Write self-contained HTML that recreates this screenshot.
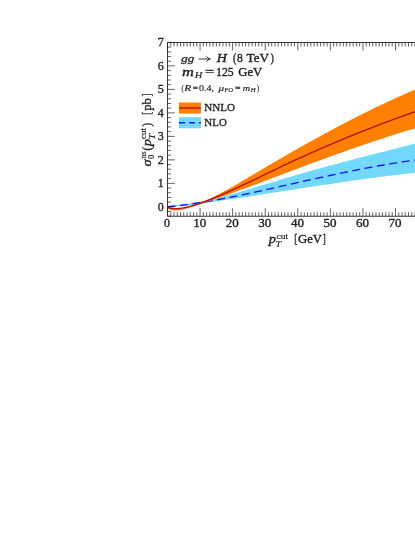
<!DOCTYPE html>
<html><head><meta charset="utf-8"><title>plot</title>
<style>
html,body{margin:0;padding:0;background:#fff;}
body{width:415px;height:537px;overflow:hidden;position:relative;font-family:"Liberation Serif",serif;}
svg{position:absolute;left:0;top:0;will-change:transform;}
text{font-family:"Liberation Serif",serif;font-weight:normal;fill:#222;stroke:#222;}
.i{font-style:italic;}
</style></head><body>
<svg width="415" height="537" viewBox="0 0 415 537">
<defs><clipPath id="c"><rect x="167.5" y="42.5" width="300" height="173.75"/></clipPath></defs>
<g clip-path="url(#c)">
<path d="M167.50 205.82L169.10 205.72L170.70 205.60L172.30 205.47L173.90 205.33L175.50 205.17L177.10 205.01L178.70 204.83L180.31 204.65L181.91 204.45L183.51 204.24L185.11 204.03L186.71 203.80L188.31 203.56L189.91 203.31L191.51 203.06L193.11 202.79L194.71 202.52L196.31 202.23L197.91 201.94L199.51 201.64L201.11 201.33L202.71 201.02L204.31 200.69L205.92 200.36L207.52 200.02L209.12 199.67L210.72 199.32L212.32 198.95L213.92 198.59L215.52 198.21L217.12 197.83L218.72 197.44L220.32 197.05L221.92 196.65L223.52 196.24L225.12 195.83L226.72 195.42L228.32 195.00L229.92 194.57L231.53 194.14L233.13 193.70L234.73 193.27L236.33 192.82L237.93 192.38L239.53 191.92L241.13 191.47L242.73 191.01L244.33 190.55L245.93 190.09L247.53 189.62L249.13 189.15L250.73 188.68L252.33 188.21L253.93 187.73L255.53 187.25L257.14 186.77L258.74 186.29L260.34 185.81L261.94 185.33L263.54 184.84L265.14 184.36L266.74 183.87L268.34 183.39L269.94 182.90L271.54 182.42L273.14 181.93L274.74 181.45L276.34 180.96L277.94 180.48L279.54 180.00L281.14 179.52L282.75 179.04L284.35 178.56L285.95 178.09L287.55 177.61L289.15 177.14L290.75 176.67L292.35 176.20L293.95 175.74L295.55 175.27L297.15 174.81L298.75 174.35L300.35 173.89L301.95 173.43L303.55 172.97L305.15 172.52L306.75 172.06L308.36 171.61L309.96 171.16L311.56 170.71L313.16 170.26L314.76 169.82L316.36 169.37L317.96 168.93L319.56 168.49L321.16 168.05L322.76 167.61L324.36 167.17L325.96 166.74L327.56 166.30L329.16 165.87L330.76 165.43L332.36 165.00L333.97 164.57L335.57 164.14L337.17 163.71L338.77 163.29L340.37 162.86L341.97 162.43L343.57 162.01L345.17 161.59L346.77 161.16L348.37 160.74L349.97 160.32L351.57 159.90L353.17 159.48L354.77 159.06L356.37 158.65L357.97 158.23L359.58 157.81L361.18 157.40L362.78 156.98L364.38 156.57L365.98 156.16L367.58 155.74L369.18 155.33L370.78 154.92L372.38 154.51L373.98 154.10L375.58 153.69L377.18 153.28L378.78 152.87L380.38 152.46L381.98 152.05L383.58 151.64L385.19 151.23L386.79 150.83L388.39 150.42L389.99 150.01L391.59 149.60L393.19 149.20L394.79 148.79L396.39 148.38L397.99 147.98L399.59 147.57L401.19 147.17L402.79 146.76L404.39 146.35L405.99 145.95L407.59 145.54L409.19 145.13L410.80 144.73L412.40 144.32L414.00 143.91L415.60 143.51L417.20 143.10L418.80 142.69L420.40 142.28L422.00 141.88L422.00 172.22L420.40 172.37L418.80 172.52L417.20 172.67L415.60 172.83L414.00 172.99L412.40 173.15L410.80 173.32L409.19 173.48L407.59 173.65L405.99 173.82L404.39 174.00L402.79 174.17L401.19 174.35L399.59 174.53L397.99 174.71L396.39 174.90L394.79 175.09L393.19 175.27L391.59 175.47L389.99 175.66L388.39 175.85L386.79 176.05L385.19 176.25L383.58 176.45L381.98 176.65L380.38 176.86L378.78 177.06L377.18 177.27L375.58 177.48L373.98 177.69L372.38 177.90L370.78 178.12L369.18 178.33L367.58 178.55L365.98 178.77L364.38 178.99L362.78 179.21L361.18 179.44L359.58 179.66L357.97 179.89L356.37 180.11L354.77 180.34L353.17 180.57L351.57 180.80L349.97 181.03L348.37 181.27L346.77 181.50L345.17 181.74L343.57 181.97L341.97 182.21L340.37 182.45L338.77 182.69L337.17 182.93L335.57 183.17L333.97 183.41L332.36 183.65L330.76 183.89L329.16 184.14L327.56 184.38L325.96 184.63L324.36 184.87L322.76 185.12L321.16 185.37L319.56 185.61L317.96 185.86L316.36 186.11L314.76 186.36L313.16 186.61L311.56 186.86L309.96 187.10L308.36 187.35L306.75 187.60L305.15 187.85L303.55 188.10L301.95 188.36L300.35 188.61L298.75 188.86L297.15 189.11L295.55 189.36L293.95 189.61L292.35 189.86L290.75 190.11L289.15 190.36L287.55 190.61L285.95 190.86L284.35 191.11L282.75 191.36L281.14 191.61L279.54 191.85L277.94 192.10L276.34 192.35L274.74 192.60L273.14 192.85L271.54 193.09L269.94 193.34L268.34 193.59L266.74 193.83L265.14 194.08L263.54 194.32L261.94 194.57L260.34 194.81L258.74 195.05L257.14 195.30L255.53 195.54L253.93 195.78L252.33 196.02L250.73 196.26L249.13 196.50L247.53 196.74L245.93 196.98L244.33 197.22L242.73 197.46L241.13 197.70L239.53 197.94L237.93 198.17L236.33 198.41L234.73 198.64L233.13 198.88L231.53 199.11L229.92 199.35L228.32 199.58L226.72 199.81L225.12 200.04L223.52 200.27L221.92 200.50L220.32 200.73L218.72 200.96L217.12 201.18L215.52 201.41L213.92 201.64L212.32 201.86L210.72 202.09L209.12 202.31L207.52 202.53L205.92 202.75L204.31 202.97L202.71 203.19L201.11 203.41L199.51 203.63L197.91 203.85L196.31 204.06L194.71 204.28L193.11 204.49L191.51 204.71L189.91 204.92L188.31 205.13L186.71 205.34L185.11 205.55L183.51 205.76L181.91 205.96L180.31 206.17L178.70 206.37L177.10 206.58L175.50 206.78L173.90 206.98L172.30 207.18L170.70 207.38L169.10 207.58L167.50 207.78Z" fill="#72d8ff"/>
<path d="M167.50 206.73L169.10 206.58L170.70 206.43L172.30 206.27L173.90 206.11L175.50 205.94L177.10 205.76L178.70 205.58L180.31 205.40L181.91 205.20L183.51 205.01L185.11 204.81L186.71 204.60L188.31 204.39L189.91 204.17L191.51 203.95L193.11 203.72L194.71 203.49L196.31 203.25L197.91 203.01L199.51 202.76L201.11 202.51L202.71 202.26L204.31 202.00L205.92 201.74L207.52 201.47L209.12 201.20L210.72 200.93L212.32 200.65L213.92 200.37L215.52 200.08L217.12 199.79L218.72 199.50L220.32 199.20L221.92 198.90L223.52 198.60L225.12 198.29L226.72 197.99L228.32 197.67L229.92 197.36L231.53 197.04L233.13 196.72L234.73 196.40L236.33 196.07L237.93 195.75L239.53 195.42L241.13 195.08L242.73 194.75L244.33 194.41L245.93 194.08L247.53 193.74L249.13 193.39L250.73 193.05L252.33 192.70L253.93 192.36L255.53 192.01L257.14 191.66L258.74 191.31L260.34 190.95L261.94 190.60L263.54 190.25L265.14 189.89L266.74 189.53L268.34 189.18L269.94 188.82L271.54 188.46L273.14 188.10L274.74 187.74L276.34 187.38L277.94 187.02L279.54 186.66L281.14 186.30L282.75 185.93L284.35 185.57L285.95 185.21L287.55 184.85L289.15 184.49L290.75 184.13L292.35 183.77L293.95 183.41L295.55 183.05L297.15 182.69L298.75 182.33L300.35 181.97L301.95 181.61L303.55 181.26L305.15 180.90L306.75 180.54L308.36 180.18L309.96 179.83L311.56 179.47L313.16 179.12L314.76 178.77L316.36 178.41L317.96 178.06L319.56 177.71L321.16 177.36L322.76 177.01L324.36 176.67L325.96 176.32L327.56 175.97L329.16 175.63L330.76 175.29L332.36 174.95L333.97 174.61L335.57 174.27L337.17 173.93L338.77 173.59L340.37 173.26L341.97 172.93L343.57 172.60L345.17 172.27L346.77 171.94L348.37 171.61L349.97 171.29L351.57 170.96L353.17 170.64L354.77 170.32L356.37 170.01L357.97 169.69L359.58 169.38L361.18 169.07L362.78 168.76L364.38 168.45L365.98 168.15L367.58 167.85L369.18 167.55L370.78 167.25L372.38 166.95L373.98 166.66L375.58 166.37L377.18 166.08L378.78 165.80L380.38 165.52L381.98 165.24L383.58 164.96L385.19 164.68L386.79 164.41L388.39 164.14L389.99 163.88L391.59 163.61L393.19 163.35L394.79 163.10L396.39 162.84L397.99 162.59L399.59 162.34L401.19 162.10L402.79 161.86L404.39 161.62L405.99 161.38L407.59 161.15L409.19 160.92L410.80 160.70L412.40 160.48L414.00 160.26L415.60 160.05L417.20 159.84L418.80 159.63L420.40 159.43L422.00 159.23" fill="none" stroke="#1a1aff" stroke-width="1.4" stroke-dasharray="8 4.55"/>
<path d="M167.50 207.13L169.10 207.44L170.70 207.68L172.30 207.86L173.90 207.97L175.50 208.02L177.10 208.01L178.70 207.95L180.31 207.83L181.91 207.65L183.51 207.43L185.11 207.16L186.71 206.84L188.31 206.48L189.91 206.08L191.51 205.63L193.11 205.16L194.71 204.65L196.31 204.11L197.91 203.53L199.51 202.94L201.11 202.31L202.71 201.67L204.31 201.00L205.92 200.32L207.52 199.61L209.12 198.89L210.72 198.16L212.32 197.40L213.92 196.63L215.52 195.85L217.12 195.05L218.72 194.24L220.32 193.41L221.92 192.57L223.52 191.72L225.12 190.86L226.72 189.98L228.32 189.10L229.92 188.21L231.53 187.31L233.13 186.40L234.73 185.48L236.33 184.56L237.93 183.63L239.53 182.70L241.13 181.76L242.73 180.82L244.33 179.87L245.93 178.92L247.53 177.97L249.13 177.01L250.73 176.06L252.33 175.10L253.93 174.15L255.53 173.20L257.14 172.24L258.74 171.29L260.34 170.35L261.94 169.40L263.54 168.45L265.14 167.51L266.74 166.56L268.34 165.62L269.94 164.68L271.54 163.75L273.14 162.81L274.74 161.88L276.34 160.94L277.94 160.01L279.54 159.08L281.14 158.16L282.75 157.23L284.35 156.31L285.95 155.38L287.55 154.46L289.15 153.55L290.75 152.63L292.35 151.72L293.95 150.80L295.55 149.90L297.15 148.99L298.75 148.08L300.35 147.18L301.95 146.28L303.55 145.38L305.15 144.48L306.75 143.59L308.36 142.69L309.96 141.80L311.56 140.91L313.16 140.03L314.76 139.15L316.36 138.26L317.96 137.39L319.56 136.51L321.16 135.64L322.76 134.76L324.36 133.90L325.96 133.03L327.56 132.17L329.16 131.30L330.76 130.45L332.36 129.59L333.97 128.74L335.57 127.89L337.17 127.04L338.77 126.19L340.37 125.35L341.97 124.51L343.57 123.67L345.17 122.84L346.77 122.01L348.37 121.18L349.97 120.36L351.57 119.53L353.17 118.71L354.77 117.90L356.37 117.08L357.97 116.27L359.58 115.47L361.18 114.66L362.78 113.86L364.38 113.06L365.98 112.27L367.58 111.47L369.18 110.69L370.78 109.90L372.38 109.12L373.98 108.34L375.58 107.56L377.18 106.79L378.78 106.02L380.38 105.26L381.98 104.50L383.58 103.74L385.19 102.98L386.79 102.23L388.39 101.48L389.99 100.74L391.59 100.00L393.19 99.26L394.79 98.52L396.39 97.79L397.99 97.07L399.59 96.34L401.19 95.63L402.79 94.91L404.39 94.20L405.99 93.49L407.59 92.79L409.19 92.09L410.80 91.39L412.40 90.70L414.00 90.01L415.60 89.32L417.20 88.64L418.80 87.96L420.40 87.29L422.00 86.62L422.00 126.31L420.40 126.77L418.80 127.24L417.20 127.71L415.60 128.18L414.00 128.66L412.40 129.13L410.80 129.61L409.19 130.10L407.59 130.58L405.99 131.07L404.39 131.56L402.79 132.05L401.19 132.55L399.59 133.05L397.99 133.55L396.39 134.05L394.79 134.56L393.19 135.06L391.59 135.57L389.99 136.09L388.39 136.60L386.79 137.12L385.19 137.64L383.58 138.16L381.98 138.68L380.38 139.21L378.78 139.73L377.18 140.26L375.58 140.79L373.98 141.33L372.38 141.86L370.78 142.40L369.18 142.94L367.58 143.48L365.98 144.03L364.38 144.57L362.78 145.12L361.18 145.67L359.58 146.22L357.97 146.77L356.37 147.33L354.77 147.88L353.17 148.44L351.57 149.00L349.97 149.56L348.37 150.12L346.77 150.69L345.17 151.25L343.57 151.82L341.97 152.39L340.37 152.96L338.77 153.53L337.17 154.10L335.57 154.68L333.97 155.25L332.36 155.83L330.76 156.41L329.16 156.99L327.56 157.57L325.96 158.15L324.36 158.73L322.76 159.32L321.16 159.90L319.56 160.49L317.96 161.07L316.36 161.66L314.76 162.25L313.16 162.84L311.56 163.43L309.96 164.03L308.36 164.62L306.75 165.21L305.15 165.81L303.55 166.40L301.95 167.00L300.35 167.60L298.75 168.19L297.15 168.79L295.55 169.39L293.95 169.99L292.35 170.59L290.75 171.19L289.15 171.80L287.55 172.40L285.95 173.00L284.35 173.60L282.75 174.21L281.14 174.81L279.54 175.41L277.94 176.02L276.34 176.62L274.74 177.23L273.14 177.83L271.54 178.44L269.94 179.05L268.34 179.65L266.74 180.26L265.14 180.86L263.54 181.47L261.94 182.07L260.34 182.67L258.74 183.28L257.14 183.88L255.53 184.48L253.93 185.08L252.33 185.68L250.73 186.28L249.13 186.88L247.53 187.48L245.93 188.07L244.33 188.67L242.73 189.26L241.13 189.86L239.53 190.45L237.93 191.04L236.33 191.62L234.73 192.21L233.13 192.80L231.53 193.38L229.92 193.96L228.32 194.54L226.72 195.12L225.12 195.69L223.52 196.27L221.92 196.84L220.32 197.41L218.72 197.97L217.12 198.54L215.52 199.10L213.92 199.66L212.32 200.21L210.72 200.77L209.12 201.32L207.52 201.86L205.92 202.41L204.31 202.95L202.71 203.48L201.11 204.01L199.51 204.53L197.91 205.05L196.31 205.56L194.71 206.07L193.11 206.57L191.51 207.06L189.91 207.54L188.31 208.02L186.71 208.48L185.11 208.93L183.51 209.34L181.91 209.71L180.31 210.03L178.70 210.26L177.10 210.42L175.50 210.48L173.90 210.42L172.30 210.24L170.70 209.93L169.10 209.46L167.50 208.83Z" fill="#ff8000"/>
<path d="M167.50 207.39L169.10 207.85L170.70 208.20L172.30 208.44L173.90 208.58L175.50 208.63L177.10 208.60L178.70 208.50L180.31 208.33L181.91 208.10L183.51 207.83L185.11 207.51L186.71 207.17L188.31 206.79L189.91 206.39L191.51 205.96L193.11 205.50L194.71 205.03L196.31 204.53L197.91 204.01L199.51 203.47L201.11 202.92L202.71 202.35L204.31 201.76L205.92 201.16L207.52 200.55L209.12 199.92L210.72 199.29L212.32 198.64L213.92 197.99L215.52 197.33L217.12 196.66L218.72 195.99L220.32 195.31L221.92 194.62L223.52 193.92L225.12 193.22L226.72 192.52L228.32 191.80L229.92 191.09L231.53 190.36L233.13 189.64L234.73 188.90L236.33 188.17L237.93 187.42L239.53 186.68L241.13 185.93L242.73 185.18L244.33 184.42L245.93 183.66L247.53 182.90L249.13 182.14L250.73 181.37L252.33 180.60L253.93 179.83L255.53 179.06L257.14 178.29L258.74 177.52L260.34 176.74L261.94 175.97L263.54 175.19L265.14 174.42L266.74 173.64L268.34 172.87L269.94 172.09L271.54 171.32L273.14 170.55L274.74 169.78L276.34 169.01L277.94 168.24L279.54 167.48L281.14 166.72L282.75 165.96L284.35 165.20L285.95 164.45L287.55 163.69L289.15 162.94L290.75 162.20L292.35 161.45L293.95 160.71L295.55 159.97L297.15 159.23L298.75 158.50L300.35 157.77L301.95 157.04L303.55 156.31L305.15 155.59L306.75 154.87L308.36 154.15L309.96 153.43L311.56 152.72L313.16 152.00L314.76 151.29L316.36 150.59L317.96 149.88L319.56 149.18L321.16 148.48L322.76 147.78L324.36 147.09L325.96 146.40L327.56 145.71L329.16 145.02L330.76 144.34L332.36 143.65L333.97 142.98L335.57 142.30L337.17 141.62L338.77 140.95L340.37 140.28L341.97 139.61L343.57 138.95L345.17 138.29L346.77 137.63L348.37 136.97L349.97 136.31L351.57 135.66L353.17 135.01L354.77 134.36L356.37 133.72L357.97 133.08L359.58 132.44L361.18 131.80L362.78 131.16L364.38 130.53L365.98 129.90L367.58 129.27L369.18 128.65L370.78 128.02L372.38 127.40L373.98 126.78L375.58 126.17L377.18 125.56L378.78 124.94L380.38 124.34L381.98 123.73L383.58 123.13L385.19 122.53L386.79 121.93L388.39 121.33L389.99 120.74L391.59 120.14L393.19 119.56L394.79 118.97L396.39 118.38L397.99 117.80L399.59 117.22L401.19 116.65L402.79 116.07L404.39 115.50L405.99 114.93L407.59 114.36L409.19 113.80L410.80 113.24L412.40 112.68L414.00 112.12L415.60 111.56L417.20 111.01L418.80 110.46L420.40 109.91L422.00 109.37" fill="none" stroke="#b3101f" stroke-width="1.35"/>
</g>
<path d="M167.50 216.25v-8.0M167.50 42.5v8.0M170.76 216.25v-4.0M170.76 42.5v4.0M174.01 216.25v-4.0M174.01 42.5v4.0M177.27 216.25v-4.0M177.27 42.5v4.0M180.53 216.25v-4.0M180.53 42.5v4.0M183.78 216.25v-4.0M183.78 42.5v4.0M187.04 216.25v-4.0M187.04 42.5v4.0M190.30 216.25v-4.0M190.30 42.5v4.0M193.56 216.25v-4.0M193.56 42.5v4.0M196.81 216.25v-4.0M196.81 42.5v4.0M200.07 216.25v-8.0M200.07 42.5v8.0M203.33 216.25v-4.0M203.33 42.5v4.0M206.58 216.25v-4.0M206.58 42.5v4.0M209.84 216.25v-4.0M209.84 42.5v4.0M213.10 216.25v-4.0M213.10 42.5v4.0M216.36 216.25v-4.0M216.36 42.5v4.0M219.61 216.25v-4.0M219.61 42.5v4.0M222.87 216.25v-4.0M222.87 42.5v4.0M226.13 216.25v-4.0M226.13 42.5v4.0M229.38 216.25v-4.0M229.38 42.5v4.0M232.64 216.25v-8.0M232.64 42.5v8.0M235.90 216.25v-4.0M235.90 42.5v4.0M239.15 216.25v-4.0M239.15 42.5v4.0M242.41 216.25v-4.0M242.41 42.5v4.0M245.67 216.25v-4.0M245.67 42.5v4.0M248.93 216.25v-4.0M248.93 42.5v4.0M252.18 216.25v-4.0M252.18 42.5v4.0M255.44 216.25v-4.0M255.44 42.5v4.0M258.70 216.25v-4.0M258.70 42.5v4.0M261.95 216.25v-4.0M261.95 42.5v4.0M265.21 216.25v-8.0M265.21 42.5v8.0M268.47 216.25v-4.0M268.47 42.5v4.0M271.72 216.25v-4.0M271.72 42.5v4.0M274.98 216.25v-4.0M274.98 42.5v4.0M278.24 216.25v-4.0M278.24 42.5v4.0M281.50 216.25v-4.0M281.50 42.5v4.0M284.75 216.25v-4.0M284.75 42.5v4.0M288.01 216.25v-4.0M288.01 42.5v4.0M291.27 216.25v-4.0M291.27 42.5v4.0M294.52 216.25v-4.0M294.52 42.5v4.0M297.78 216.25v-8.0M297.78 42.5v8.0M301.04 216.25v-4.0M301.04 42.5v4.0M304.29 216.25v-4.0M304.29 42.5v4.0M307.55 216.25v-4.0M307.55 42.5v4.0M310.81 216.25v-4.0M310.81 42.5v4.0M314.06 216.25v-4.0M314.06 42.5v4.0M317.32 216.25v-4.0M317.32 42.5v4.0M320.58 216.25v-4.0M320.58 42.5v4.0M323.84 216.25v-4.0M323.84 42.5v4.0M327.09 216.25v-4.0M327.09 42.5v4.0M330.35 216.25v-8.0M330.35 42.5v8.0M333.61 216.25v-4.0M333.61 42.5v4.0M336.86 216.25v-4.0M336.86 42.5v4.0M340.12 216.25v-4.0M340.12 42.5v4.0M343.38 216.25v-4.0M343.38 42.5v4.0M346.63 216.25v-4.0M346.63 42.5v4.0M349.89 216.25v-4.0M349.89 42.5v4.0M353.15 216.25v-4.0M353.15 42.5v4.0M356.41 216.25v-4.0M356.41 42.5v4.0M359.66 216.25v-4.0M359.66 42.5v4.0M362.92 216.25v-8.0M362.92 42.5v8.0M366.18 216.25v-4.0M366.18 42.5v4.0M369.43 216.25v-4.0M369.43 42.5v4.0M372.69 216.25v-4.0M372.69 42.5v4.0M375.95 216.25v-4.0M375.95 42.5v4.0M379.21 216.25v-4.0M379.21 42.5v4.0M382.46 216.25v-4.0M382.46 42.5v4.0M385.72 216.25v-4.0M385.72 42.5v4.0M388.98 216.25v-4.0M388.98 42.5v4.0M392.23 216.25v-4.0M392.23 42.5v4.0M395.49 216.25v-8.0M395.49 42.5v8.0M398.75 216.25v-4.0M398.75 42.5v4.0M402.00 216.25v-4.0M402.00 42.5v4.0M405.26 216.25v-4.0M405.26 42.5v4.0M408.52 216.25v-4.0M408.52 42.5v4.0M411.77 216.25v-4.0M411.77 42.5v4.0M415.03 216.25v-4.0M415.03 42.5v4.0M418.29 216.25v-4.0M418.29 42.5v4.0M167.5 216.19h3.6M167.5 211.50h3.6M167.5 206.80h7.4M167.5 202.10h3.6M167.5 197.41h3.6M167.5 192.71h3.6M167.5 188.02h3.6M167.5 183.32h7.4M167.5 178.62h3.6M167.5 173.93h3.6M167.5 169.23h3.6M167.5 164.54h3.6M167.5 159.84h7.4M167.5 155.14h3.6M167.5 150.45h3.6M167.5 145.75h3.6M167.5 141.06h3.6M167.5 136.36h7.4M167.5 131.66h3.6M167.5 126.97h3.6M167.5 122.27h3.6M167.5 117.58h3.6M167.5 112.88h7.4M167.5 108.18h3.6M167.5 103.49h3.6M167.5 98.79h3.6M167.5 94.10h3.6M167.5 89.40h7.4M167.5 84.70h3.6M167.5 80.01h3.6M167.5 75.31h3.6M167.5 70.62h3.6M167.5 65.92h7.4M167.5 61.22h3.6M167.5 56.53h3.6M167.5 51.83h3.6M167.5 47.14h3.6M167.5 42.44h7.4" stroke="#222" stroke-width="0.7" fill="none"/>
<path d="M420 42.5H167.5V216.25H420" stroke="#222" stroke-width="0.9" fill="none"/>
<path d="M198.6 59.0H209.8M206.4 56.3Q207.8 58.5 210.4 59.0Q207.8 59.5 206.4 61.7" stroke="#222" stroke-width="0.9" fill="none"/>
<rect x="179.0" y="102.5" width="21.9" height="11.1" fill="#ff8000"/>
<path d="M179.0 108.05H200.9" stroke="#b3101f" stroke-width="1.4"/>
<rect x="179.0" y="117.2" width="21.9" height="11.1" fill="#72d8ff"/>
<path d="M179.0 122.8H200.9" stroke="#1a1aff" stroke-width="1.4" stroke-dasharray="6 4"/>
<text x="181.2" y="61.5" font-size="10.4" stroke-width="0.29" textLength="12.9" lengthAdjust="spacingAndGlyphs" class="i">gg</text>
<text x="216.8" y="61.9" font-size="11.7" stroke-width="0.33" textLength="10.1" lengthAdjust="spacingAndGlyphs" class="i">H</text>
<text x="233.0" y="61.9" font-size="11.7" stroke-width="0.33" textLength="3.4" lengthAdjust="spacingAndGlyphs">(</text>
<text x="237.0" y="61.9" font-size="11.7" stroke-width="0.33" textLength="5.8" lengthAdjust="spacingAndGlyphs">8</text>
<text x="246.6" y="61.9" font-size="11.7" stroke-width="0.33" textLength="22.5" lengthAdjust="spacingAndGlyphs">TeV</text>
<text x="270.6" y="61.9" font-size="11.7" stroke-width="0.33" textLength="3.4" lengthAdjust="spacingAndGlyphs">)</text>
<text x="182.1" y="76.3" font-size="11.7" stroke-width="0.33" textLength="11.9" lengthAdjust="spacingAndGlyphs" class="i">m</text>
<text x="194.7" y="78.0" font-size="8.2" stroke-width="0.17" textLength="7.6" lengthAdjust="spacingAndGlyphs" class="i">H</text>
<text x="204.9" y="76.3" font-size="11.7" stroke-width="0.33" textLength="9.3" lengthAdjust="spacingAndGlyphs">=</text>
<text x="216.0" y="76.3" font-size="11.7" stroke-width="0.33" textLength="17.7" lengthAdjust="spacingAndGlyphs">125</text>
<text x="238.3" y="76.3" font-size="11.7" stroke-width="0.33" textLength="24.0" lengthAdjust="spacingAndGlyphs">GeV</text>
<text x="181.5" y="90.5" font-size="7.8" stroke-width="0.16" textLength="2.2" lengthAdjust="spacingAndGlyphs">(</text>
<text x="184.3" y="90.5" font-size="7.8" stroke-width="0.16" textLength="7.0" lengthAdjust="spacingAndGlyphs" class="i">R</text>
<text x="192.8" y="90.8" font-size="9.2" stroke-width="0.26" textLength="5.4" lengthAdjust="spacingAndGlyphs">=</text>
<text x="199.0" y="90.5" font-size="7.8" stroke-width="0.16" textLength="15.0" lengthAdjust="spacingAndGlyphs">0.4,</text>
<text x="218.6" y="90.5" font-size="7.8" stroke-width="0.16" textLength="5.6" lengthAdjust="spacingAndGlyphs" class="i">μ</text>
<text x="224.6" y="91.7" font-size="5.4" stroke-width="0.11" textLength="8.6" lengthAdjust="spacingAndGlyphs">FO</text>
<text x="235.1" y="90.8" font-size="9.2" stroke-width="0.26" textLength="5.6" lengthAdjust="spacingAndGlyphs">=</text>
<text x="242.8" y="90.5" font-size="7.8" stroke-width="0.16" textLength="7.4" lengthAdjust="spacingAndGlyphs" class="i">m</text>
<text x="250.6" y="91.7" font-size="5.6" stroke-width="0.12" textLength="5.2" lengthAdjust="spacingAndGlyphs" class="i">H</text>
<text x="257.0" y="90.5" font-size="7.8" stroke-width="0.16" textLength="2.2" lengthAdjust="spacingAndGlyphs">)</text>
<text x="204.3" y="110.8" font-size="9.8" stroke-width="0.28" textLength="30.8" lengthAdjust="spacingAndGlyphs">NNLO</text>
<text x="204.3" y="125.8" font-size="9.8" stroke-width="0.28" textLength="22.5" lengthAdjust="spacingAndGlyphs">NLO</text>
<text x="157.8" y="210.8" font-size="11.7" stroke-width="0.33" textLength="6.0" lengthAdjust="spacingAndGlyphs">0</text>
<text x="157.8" y="187.3" font-size="11.7" stroke-width="0.33" textLength="6.0" lengthAdjust="spacingAndGlyphs">1</text>
<text x="157.8" y="163.8" font-size="11.7" stroke-width="0.33" textLength="6.0" lengthAdjust="spacingAndGlyphs">2</text>
<text x="157.8" y="140.4" font-size="11.7" stroke-width="0.33" textLength="6.0" lengthAdjust="spacingAndGlyphs">3</text>
<text x="157.8" y="116.9" font-size="11.7" stroke-width="0.33" textLength="6.0" lengthAdjust="spacingAndGlyphs">4</text>
<text x="157.8" y="93.4" font-size="11.7" stroke-width="0.33" textLength="6.0" lengthAdjust="spacingAndGlyphs">5</text>
<text x="157.8" y="69.9" font-size="11.7" stroke-width="0.33" textLength="6.0" lengthAdjust="spacingAndGlyphs">6</text>
<text x="157.8" y="46.4" font-size="11.7" stroke-width="0.33" textLength="6.0" lengthAdjust="spacingAndGlyphs">7</text>
<text x="164.1" y="227.3" font-size="11.7" stroke-width="0.33" textLength="6.0" lengthAdjust="spacingAndGlyphs">0</text>
<text x="193.2" y="227.3" font-size="11.7" stroke-width="0.33" textLength="13.0" lengthAdjust="spacingAndGlyphs">10</text>
<text x="225.7" y="227.3" font-size="11.7" stroke-width="0.33" textLength="13.0" lengthAdjust="spacingAndGlyphs">20</text>
<text x="258.3" y="227.3" font-size="11.7" stroke-width="0.33" textLength="13.0" lengthAdjust="spacingAndGlyphs">30</text>
<text x="290.9" y="227.3" font-size="11.7" stroke-width="0.33" textLength="13.0" lengthAdjust="spacingAndGlyphs">40</text>
<text x="323.5" y="227.3" font-size="11.7" stroke-width="0.33" textLength="13.0" lengthAdjust="spacingAndGlyphs">50</text>
<text x="356.0" y="227.3" font-size="11.7" stroke-width="0.33" textLength="13.0" lengthAdjust="spacingAndGlyphs">60</text>
<text x="388.6" y="227.3" font-size="11.7" stroke-width="0.33" textLength="13.0" lengthAdjust="spacingAndGlyphs">70</text>
<text x="268.7" y="243.1" font-size="11.7" stroke-width="0.33" textLength="7.2" lengthAdjust="spacingAndGlyphs" class="i">p</text>
<text x="275.4" y="247.2" font-size="7.5" stroke-width="0.16" textLength="5.6" lengthAdjust="spacingAndGlyphs" class="i">T</text>
<text x="276.4" y="238.6" font-size="7.5" stroke-width="0.16" textLength="11.7" lengthAdjust="spacingAndGlyphs">cut</text>
<text x="294.2" y="243.1" font-size="11.7" stroke-width="0.33" textLength="3.0" lengthAdjust="spacingAndGlyphs">[</text>
<text x="298.0" y="243.1" font-size="11.7" stroke-width="0.33" textLength="24.0" lengthAdjust="spacingAndGlyphs">GeV</text>
<text x="322.8" y="243.1" font-size="11.7" stroke-width="0.33" textLength="3.0" lengthAdjust="spacingAndGlyphs">]</text>
<g transform="translate(151.0 166.6) rotate(-90)">
<text x="0.2" y="0.0" font-size="11.7" stroke-width="0.33" textLength="7.0" lengthAdjust="spacingAndGlyphs" class="i">σ</text>
<text x="7.7" y="2.8" font-size="7.5" stroke-width="0.16" textLength="4.2" lengthAdjust="spacingAndGlyphs">0</text>
<text x="8.0" y="-5.0" font-size="7.5" stroke-width="0.16" textLength="7.1" lengthAdjust="spacingAndGlyphs">ns</text>
<text x="16.0" y="0.0" font-size="11.7" stroke-width="0.33" textLength="3.6" lengthAdjust="spacingAndGlyphs">(</text>
<text x="20.4" y="0.0" font-size="11.7" stroke-width="0.33" textLength="7.2" lengthAdjust="spacingAndGlyphs" class="i">p</text>
<text x="27.2" y="3.6" font-size="7.5" stroke-width="0.16" textLength="5.6" lengthAdjust="spacingAndGlyphs" class="i">T</text>
<text x="27.6" y="-5.0" font-size="7.5" stroke-width="0.16" textLength="11.0" lengthAdjust="spacingAndGlyphs">cut</text>
<text x="40.2" y="0.0" font-size="11.7" stroke-width="0.33" textLength="3.6" lengthAdjust="spacingAndGlyphs">)</text>
<text x="51.8" y="0.0" font-size="11.7" stroke-width="0.33" textLength="3.0" lengthAdjust="spacingAndGlyphs">[</text>
<text x="55.9" y="0.0" font-size="11.7" stroke-width="0.33" textLength="12.5" lengthAdjust="spacingAndGlyphs">pb</text>
<text x="70.2" y="0.0" font-size="11.7" stroke-width="0.33" textLength="3.0" lengthAdjust="spacingAndGlyphs">]</text>
</g>
</svg>
</body></html>
